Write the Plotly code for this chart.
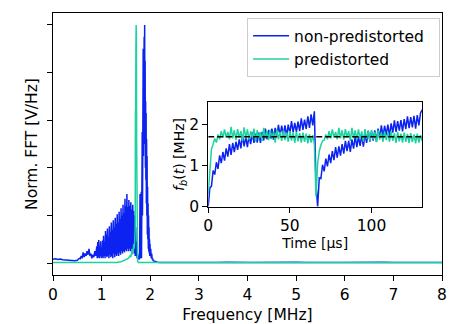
import plotly.graph_objects as go

# ---------------- main spectrum data ----------------
blue_freq = [
    0.00, 0.05, 0.10, 0.15, 0.20, 0.25, 0.30, 0.35, 0.40, 0.45, 0.50,
    0.52, 0.54, 0.56, 0.58, 0.60, 0.62, 0.64, 0.66, 0.68, 0.70,
    0.72, 0.74, 0.76, 0.78, 0.80, 0.82, 0.84, 0.86, 0.88, 0.90,
    0.91, 0.92, 0.93, 0.94, 0.95, 0.96, 0.97, 0.98, 0.99, 1.00,
    1.01, 1.02, 1.03, 1.04, 1.05, 1.06, 1.07, 1.08, 1.09, 1.10,
    1.11, 1.12, 1.13, 1.14, 1.15, 1.16, 1.17, 1.18, 1.19, 1.20,
    1.21, 1.22, 1.23, 1.24, 1.25, 1.26, 1.27, 1.28, 1.29, 1.30,
    1.31, 1.32, 1.33, 1.34, 1.35, 1.36, 1.37, 1.38, 1.39, 1.40,
    1.41, 1.42, 1.43, 1.44, 1.45, 1.46, 1.47, 1.48, 1.49, 1.50,
    1.51, 1.52, 1.53, 1.54, 1.55, 1.56, 1.57, 1.58, 1.59, 1.60,
    1.61, 1.62, 1.63, 1.64, 1.65, 1.66, 1.67, 1.68, 1.69, 1.70,
    1.71, 1.72, 1.73, 1.74, 1.75, 1.76, 1.77,
    1.780, 1.785, 1.790, 1.795,
    1.800, 1.805, 1.810, 1.815, 1.820, 1.825, 1.830, 1.835, 1.840, 1.845,
    1.850, 1.855, 1.860, 1.865, 1.870, 1.875, 1.880, 1.885, 1.890, 1.895,
    1.900, 1.905, 1.910, 1.915, 1.920, 1.925, 1.930, 1.935, 1.940, 1.945,
    1.950, 1.955, 1.960, 1.965, 1.970, 1.975, 1.980, 1.985, 1.990, 1.995,
    2.00, 2.01, 2.02, 2.03, 2.04, 2.05, 2.06, 2.08, 2.10, 2.15,
    2.2, 2.4, 2.6, 2.8, 3.0, 3.2, 3.4, 3.6, 3.8, 4.0,
    4.2, 4.4, 4.6, 4.8, 5.0, 5.2, 5.4, 5.6, 5.8, 6.0,
    6.2, 6.4, 6.6, 6.8, 7.0, 7.2, 7.4, 7.6, 7.8, 8.0,
]
blue_fft = [
    0.016, 0.018, 0.015, 0.017, 0.014, 0.013, 0.015, 0.012, 0.011, 0.010, 0.012,
    0.015, 0.020, 0.018, 0.030, 0.020, 0.045, 0.025, 0.040, 0.030, 0.050,
    0.035, 0.060, 0.030, 0.040, 0.020, 0.035, 0.025, 0.050, 0.030, 0.070,
    0.020, 0.088, 0.025, 0.097, 0.020, 0.070, 0.030, 0.092, 0.020, 0.060,
    0.025, 0.095, 0.020, 0.115, 0.030, 0.090, 0.020, 0.135, 0.030, 0.120,
    0.025, 0.145, 0.030, 0.110, 0.020, 0.155, 0.035, 0.130, 0.025, 0.170,
    0.030, 0.140, 0.020, 0.180, 0.040, 0.150, 0.025, 0.190, 0.035, 0.165,
    0.030, 0.205, 0.040, 0.170, 0.030, 0.215, 0.045, 0.185, 0.035, 0.230,
    0.050, 0.200, 0.040, 0.245, 0.050, 0.210, 0.045, 0.270, 0.055, 0.240,
    0.050, 0.290, 0.060, 0.235, 0.050, 0.265, 0.060, 0.240, 0.050, 0.255,
    0.060, 0.225, 0.050, 0.245, 0.045, 0.220, 0.040, 0.200, 0.030, 0.150,
    0.030, 0.090, 0.020, 0.040, 0.015, 0.030, 0.015,
    0.020, 0.150, 0.290, 0.030,
    0.020, 0.220, 0.040, 0.300, 0.020, 0.400, 0.050, 0.550, 0.200, 0.750,
    0.350, 0.900, 0.450, 0.800, 0.550, 0.950, 0.600, 1.000, 0.500, 0.850,
    0.400, 0.680, 0.350, 0.630, 0.250, 0.520, 0.200, 0.450, 0.120, 0.320,
    0.100, 0.250, 0.060, 0.200, 0.050, 0.150, 0.040, 0.100, 0.030, 0.080,
    0.040, 0.060, 0.020, 0.040, 0.015, 0.020, 0.010, 0.008, 0.006, 0.004,
    0.003, 0.002, 0.004, 0.002, 0.003, 0.002, 0.003, 0.004, 0.002, 0.003,
    0.002, 0.003, 0.002, 0.003, 0.004, 0.002, 0.003, 0.002, 0.003, 0.002,
    0.003, 0.002, 0.003, 0.004, 0.002, 0.003, 0.002, 0.003, 0.002, 0.003,
]

green_freq = [
    0.0, 0.5, 1.0, 1.3, 1.40, 1.45, 1.50, 1.55, 1.58, 1.60, 1.62, 1.63,
    1.64, 1.65, 1.66, 1.67, 1.68, 1.690, 1.695, 1.700, 1.705, 1.710,
    1.715, 1.720, 1.725, 1.730, 1.740, 1.760, 2.0, 3.0, 4.0, 5.0, 6.0, 7.0, 8.0,
]
green_fft = [
    0.002, 0.002, 0.002, 0.003, 0.006, 0.010, 0.014, 0.020, 0.030, 0.025, 0.050, 0.035,
    0.060, 0.045, 0.080, 0.060, 0.090, 0.150, 0.630, 0.650, 0.900, 1.000,
    0.950, 0.500, 0.100, 0.020, 0.006, 0.003, 0.002, 0.002, 0.002, 0.002, 0.002, 0.002, 0.002,
]

# ---------------- inset data ----------------
time_us = list(range(0, 132))
blue_fb = [
    0.00, 0.45, 0.50, 0.88, 0.78, 1.08, 0.92, 1.25, 1.06, 1.33,
    1.12, 1.42, 1.22, 1.52, 1.26, 1.55, 1.33, 1.58, 1.38, 1.64,
    1.42, 1.74, 1.47, 1.70, 1.45, 1.74, 1.52, 1.81, 1.55, 1.78,
    1.56, 1.80, 1.55, 1.82, 1.61, 1.90, 1.64, 1.87, 1.66, 1.90,
    1.63, 1.92, 1.71, 1.99, 1.73, 1.97, 1.74, 1.98, 1.72, 2.00,
    1.78, 2.08, 1.81, 2.04, 1.82, 2.07, 1.84, 2.15, 1.87, 2.12,
    1.89, 2.20, 1.92, 2.25, 1.98, 2.32, 0.55, 0.00, 0.70, 0.68,
    1.02, 0.86, 1.17, 0.98, 1.27, 1.06, 1.35, 1.13, 1.45, 1.19,
    1.47, 1.24, 1.52, 1.29, 1.60, 1.35, 1.60, 1.33, 1.64, 1.41,
    1.72, 1.45, 1.71, 1.48, 1.74, 1.46, 1.77, 1.55, 1.85, 1.58,
    1.83, 1.61, 1.86, 1.58, 1.90, 1.67, 1.98, 1.71, 1.97, 1.74,
    2.00, 1.72, 2.03, 1.80, 2.10, 1.82, 2.08, 1.85, 2.11, 1.83,
    2.13, 1.89, 2.20, 1.91, 2.18, 1.93, 2.21, 1.90, 2.23, 1.98,
    2.28, 2.36,
]
green_fb = [
    0.30, 1.00, 1.40, 1.52, 1.66, 1.56, 1.76, 1.64, 1.84, 1.68,
    1.88, 1.68, 1.82, 1.64, 1.94, 1.66, 1.86, 1.62, 1.89, 1.68,
    1.84, 1.60, 1.93, 1.66, 1.88, 1.63, 1.84, 1.68, 1.90, 1.58,
    1.86, 1.66, 1.82, 1.60, 1.92, 1.66, 1.84, 1.62, 1.87, 1.64,
    1.83, 1.56, 1.88, 1.64, 1.82, 1.60, 1.86, 1.62, 1.80, 1.58,
    1.84, 1.61, 1.80, 1.55, 1.82, 1.59, 1.79, 1.56, 1.80, 1.58,
    1.78, 1.54, 1.76, 1.56, 1.74, 1.52, 0.25, 1.05, 1.35, 1.50,
    1.60, 1.62, 1.76, 1.64, 1.84, 1.66, 1.88, 1.68, 1.82, 1.64,
    1.92, 1.66, 1.86, 1.63, 1.89, 1.68, 1.84, 1.60, 1.92, 1.66,
    1.86, 1.64, 1.88, 1.66, 1.83, 1.58, 1.89, 1.65, 1.84, 1.60,
    1.87, 1.64, 1.82, 1.57, 1.86, 1.63, 1.81, 1.58, 1.84, 1.62,
    1.80, 1.58, 1.83, 1.60, 1.79, 1.55, 1.82, 1.59, 1.78, 1.56,
    1.80, 1.58, 1.77, 1.55, 1.79, 1.57, 1.76, 1.54, 1.78, 1.56,
    1.74, 1.60,
]
target_fb = 1.7

series_names = ["non-predistorted", "predistorted"]
main_ticks_x = [0, 1, 2, 3, 4, 5, 6, 7, 8]
main_ticks_y = [0, 0.2, 0.4, 0.6, 0.8, 1.0]
inset_ticks_x = [0, 50, 100]
inset_ticks_y = [0, 1, 2]

BLUE = "#0b22f0"
GREEN = "#1cd3a0"
FONT = "DejaVu Sans"
FS = 15.5
PAD = "\u00a0\u00a0"

fig = go.Figure()
fig.add_trace(go.Scatter(x=blue_freq, y=blue_fft, mode="lines", name=series_names[0] + PAD,
                         line=dict(color=BLUE, width=1.5)))
fig.add_trace(go.Scatter(x=green_freq, y=green_fft, mode="lines", name=series_names[1] + PAD,
                         line=dict(color=GREEN, width=1.5)))
fig.add_trace(go.Scatter(x=time_us, y=blue_fb, mode="lines", showlegend=False,
                         line=dict(color=BLUE, width=1.5), xaxis="x2", yaxis="y2"))
fig.add_trace(go.Scatter(x=time_us, y=green_fb, mode="lines", showlegend=False,
                         line=dict(color=GREEN, width=1.5), xaxis="x2", yaxis="y2"))
fig.add_trace(go.Scatter(x=[0, 131], y=[target_fb, target_fb], mode="lines", showlegend=False,
                         line=dict(color="black", width=1.5, dash="6px,3px"), xaxis="x2", yaxis="y2"))

axis_common = dict(showline=True, linecolor="black", linewidth=1, mirror=True,
                   ticks="outside", ticklen=5, tickwidth=1, tickcolor="black",
                   showgrid=False, zeroline=False, automargin=False,
                   tickfont=dict(family=FONT, size=FS, color="black"))

fig.update_layout(
    width=456, height=324,
    margin=dict(l=53, r=14, t=13, b=49),
    paper_bgcolor="white", plot_bgcolor="white",
    font=dict(family=FONT, size=FS, color="black"),
    xaxis=dict(range=[0, 8], tickvals=main_ticks_x,
               title=dict(text="Frequency [MHz]", standoff=6, font=dict(size=FS)), **axis_common),
    yaxis=dict(range=[-0.05, 1.05], tickvals=main_ticks_y, showticklabels=False,
               title=dict(text="Norm. FFT [V/Hz]", standoff=5, font=dict(size=FS)), **axis_common),
    xaxis2=dict(domain=[0.399, 0.949], anchor="y2", range=[0, 131], tickvals=inset_ticks_x,
                title=dict(text="Time [µs]", standoff=0, font=dict(size=FS - 1.5)), **axis_common),
    yaxis2=dict(domain=[0.261, 0.659], anchor="x2", range=[0, 2.54], tickvals=inset_ticks_y,
                title=dict(text="<i>f</i><sub><i>b</i></sub>(<i>t</i>) [MHz]", standoff=0,
                           font=dict(size=FS - 1.5)), **axis_common),
    legend=dict(x=0.499, y=0.98, xanchor="left", yanchor="top",
                bgcolor="white", bordercolor="#cccccc", borderwidth=1, itemwidth=36,
                font=dict(family=FONT, size=FS), tracegroupgap=0),
    showlegend=True,
)

fig.write_html("out.html", config={"displayModeBar": False},
               post_script="document.body.style.margin='0px';")
